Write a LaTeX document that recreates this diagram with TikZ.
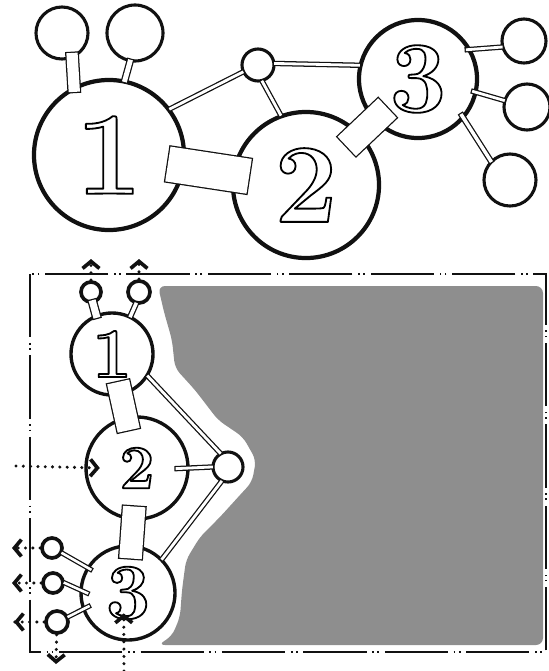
\documentclass[tikz,border=0pt]{standalone}
\usepackage{xcolor}
\usepackage{tikz}
\usetikzlibrary{arrows.meta,decorations.markings}
\definecolor{ink}{HTML}{111111}
\definecolor{halftone}{HTML}{8E8E8E}
\newcommand{\outlinedigit}[1]{\special{pdf:literal direct 1 Tr 1.3 w 1 j}#1\special{pdf:literal direct 0 Tr}}

\begin{document}
\begin{tikzpicture}[x=0.025cm,y=-0.025cm,
    atom/.style={circle,draw=ink,fill=white,line width=3pt,inner sep=0pt},
    lowatom/.style={atom,line width=2.4pt},
    sat/.style={circle,draw=ink,fill=white,line width=2.2pt,inner sep=0pt},
    lowsat/.style={sat,line width=2.6pt},
    bond/.style={draw=ink,line width=0.9pt,double=white,double distance=#1,line cap=rect},
    bond/.default=2pt,
    flow/.style={draw=ink,line width=2.4pt,dash pattern=on 0pt off 5.2pt,line cap=round,
      postaction={decorate,decoration={markings,mark=at position 1 with
        {\pgfsetdash{}{0pt}\arrow{Straight Barb[length=5pt,width=12pt,line width=2.6pt]}}}}},
    frame/.style={draw=ink,line width=1.5pt,dash pattern=on 45pt off 4pt on 1.2pt off 2.5pt on 1.2pt off 4pt},
    screen/.style={fill=halftone,rounded corners=5pt}
]
\useasboundingbox (0,0) rectangle (548,671);
% top molecule
\node[atom,minimum size=3.75cm,font=\fontsize{84}{84}\selectfont\bfseries] (t1) at (109,155) {\outlinedigit{1}};
\node[atom,minimum size=3.65cm,font=\fontsize{80}{80}\selectfont\bfseries] (t2) at (306,185) {\outlinedigit{2}};
\node[atom,minimum size=2.95cm,font=\fontsize{72}{72}\selectfont\bfseries] (t3) at (418,79) {\outlinedigit{3}};
\node[sat,minimum size=0.8cm] (tc) at (258,65) {};
\node[sat,minimum size=1.3cm] (t1a) at (62,33) {};
\node[sat,minimum size=1.4cm] (t1b) at (135,33) {};
\node[sat,minimum size=1.1cm] (r1) at (524,41) {};
\node[sat,minimum size=1.15cm] (r2) at (527,107) {};
\node[sat,minimum size=1.3cm] (r3) at (510,180) {};
\draw[bond=8pt] (t1a.-68) -- (t1.117);
\draw[bond=3.5pt] (t1b.-100) -- (t1.78);
\draw[bond] (t1.37) -- (tc.205);
\draw[bond] (tc.5) -- (t3.167);
\draw[bond] (tc.-75) -- (t2.110);
\draw[bond=25pt] (t1) -- (t2);
\draw[bond=19pt,shorten <=-4pt,shorten >=-4pt] (t2) -- (t3);
\draw[bond,shorten <=-3pt] (t3.29) -- (r1.195);
\draw[bond,shorten <=-3pt] (t3.-13) -- (r2.164);
\draw[bond=2.5pt,shorten <=-3pt] (t3.-41) -- (r3.135);
% bottom panel
\fill[screen] (158,286) -- (543,286) -- (543,645) -- (158,645) -- (172,636) -- (180,617)
  -- (182,590) -- (186,560) -- (200,537) -- (220,517) -- (240,495) -- (252,482)
  -- (256,460) -- (243,437) -- (218,420) -- (195,390) -- (175,368) -- (172,340)
  -- (164,312) -- cycle;
\draw[frame] (30,274) rectangle (546,652);
\node[lowatom,minimum size=2.05cm,font=\fontsize{50}{50}\selectfont\bfseries] (b1) at (112,354) {\outlinedigit{1}};
\node[lowatom,minimum size=2.55cm,font=\fontsize{44}{44}\selectfont\bfseries] (b2) at (137,468) {\outlinedigit{2}};
\node[lowatom,minimum size=2.35cm,font=\fontsize{56}{56}\selectfont\bfseries] (b3) at (128,593) {\outlinedigit{3}};
\node[sat,minimum size=0.75cm] (bs) at (228,467) {};
\node[lowsat,minimum size=0.5cm] (b1a) at (91,292) {};
\node[lowsat,minimum size=0.55cm] (b1b) at (139,292) {};
\node[lowsat,minimum size=0.5cm] (b3s1) at (52,548) {};
\node[lowsat,minimum size=0.5cm] (b3s2) at (53,583) {};
\node[lowsat,minimum size=0.55cm] (b3s3) at (57,622) {};
\draw[bond=5pt] (b1a.-80) -- (b1.112);
\draw[bond=2.5pt] (b1b.-105) -- (b1.64);
\draw[bond=16pt,shorten <=-2pt,shorten >=-2pt] (b1) -- (b2);
\draw[bond=16pt,shorten <=-2pt,shorten >=-2pt] (b2) -- (b3);
\draw[bond] (b1.-32) -- (bs.120);
\draw[bond,shorten <=-9pt] (b2.0) -- (bs.180);
\draw[bond] (bs.-115) -- (b3.45);
\draw[bond=1.8pt,shorten >=-3pt] (b3s1.-27) -- (b3.148);
\draw[bond=1.8pt,shorten >=-6pt] (b3s2.0) -- (b3.176);
\draw[bond=1.8pt,shorten >=-5pt] (b3s3.25) -- (b3.200);
% flows in and out
\coordinate (upA) at (91,259);
\coordinate (upB) at (139,259);
\coordinate (inL) at (16,466);
\coordinate (outA) at (12,548);
\coordinate (outB) at (12,583);
\coordinate (outC) at (14,622);
\coordinate (downC) at (56,664);
\coordinate (inB) at (124,671);
\draw[flow] (b1a) -- (upA);
\draw[flow] (b1b) -- (upB);
\draw[flow] (inL) -- ([xshift=11pt]b2.west);
\draw[flow] (b3s1) -- (outA);
\draw[flow] (b3s2) -- (outB);
\draw[flow] (b3s3) -- (outC);
\draw[flow] (b3s3) -- (downC);
\draw[flow] (inB) -- ([yshift=20pt]b3.-95);
\end{tikzpicture}
\end{document}
